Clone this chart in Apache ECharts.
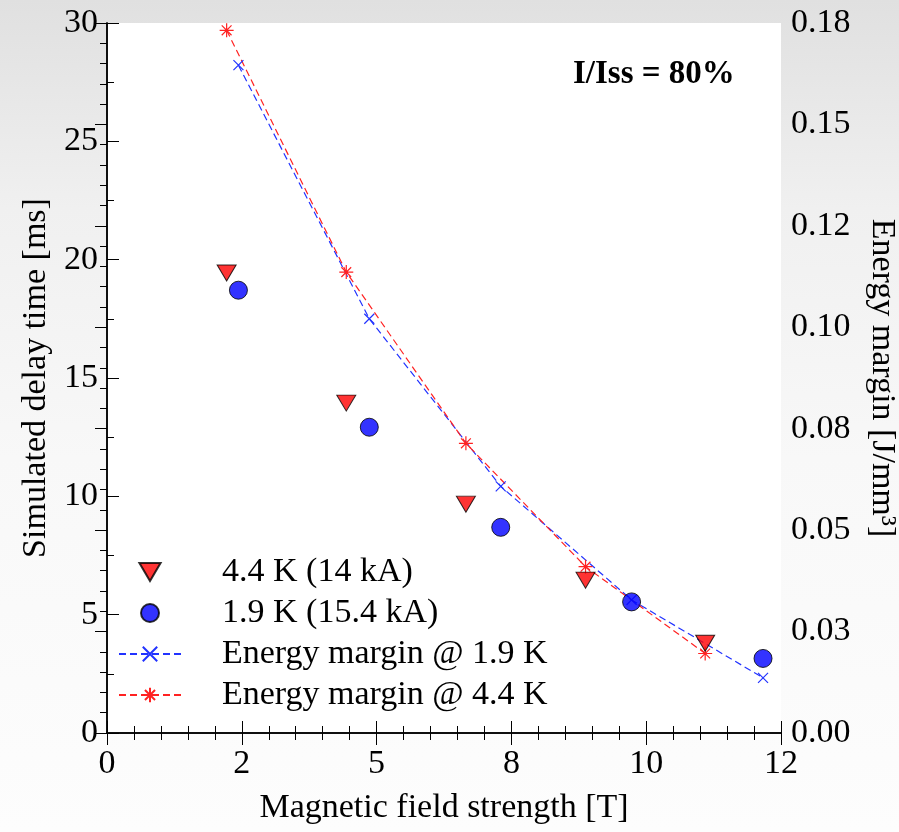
<!DOCTYPE html>
<html>
<head>
<meta charset="utf-8">
<script src="https://cdn.jsdelivr.net/npm/echarts@6/dist/echarts.min.js"></script>
<style>
html,body{margin:0;padding:0;}
#chart{width:899px;height:832px;background:linear-gradient(180deg,#e0e0e0 0%,#f0f0f0 25%,#f8f8f8 55%,#fdfdfd 100%);}
</style>
</head>
<body>
<div id="chart"></div>
<script>
// Data
const fieldT44 = [2.13, 4.26, 6.39, 8.52, 10.65];
const delay44 = [19.44, 13.94, 9.67, 6.46, 3.79];
const fieldT19 = [2.34, 4.67, 7.01, 9.34, 11.68];
const delay19 = [18.71, 12.92, 8.69, 5.54, 3.15];
const margin19 = [0.1646, 0.1021, 0.0608, 0.0328, 0.0136];
const margin44 = [0.1732, 0.1136, 0.0714, 0.0410, 0.0196];
const xTickLabels = ['0', '2', '5', '8', '10', '12'];
const rightTickLabels = ['0.00', '0.03', '0.05', '0.08', '0.10', '0.12', '0.15', '0.18'];
const seriesNames = ['4.4 K (14 kA)', '1.9 K (15.4 kA)', 'Energy margin @ 1.9 K', 'Energy margin @ 4.4 K'];

const zip = (a, b) => a.map((v, i) => [v, b[i]]);
const FONT = 'Liberation Serif';
const chart = echarts.init(document.getElementById('chart'), null, {renderer: 'canvas'});

const axisLineStyle = {color: '#000', width: 1.5};
const option = {
  backgroundColor: 'transparent',
  textStyle: {fontFamily: FONT, color: '#000'},
  animation: false,
  grid: {left: 107, right: 118, top: 23, bottom: 99, show: true, backgroundColor: '#fff', borderWidth: 0,
    outerBoundsMode: 'none', containLabel: false},
  xAxis: [{
    type: 'value', min: 0, max: 12, interval: 2.4, position: 'bottom',
    name: 'Magnetic field strength [T]', nameLocation: 'middle', nameGap: 58,
    nameTextStyle: {fontFamily: FONT, fontSize: 34, color: '#000'},
    axisLine: {show: true, lineStyle: axisLineStyle},
    axisTick: {show: true, inside: true, length: 12, lineStyle: {color: '#000', width: 1}},
    minorTick: {show: true, splitNumber: 5, length: 7, lineStyle: {color: '#000', width: 1}},
    axisLabel: {fontFamily: FONT, fontSize: 34, color: '#000', margin: 14,
      formatter: (v, i) => xTickLabels[i]},
    splitLine: {show: false}
  }, {
    type: 'value', min: 0, max: 12, interval: 2.4, position: 'top',
    axisLine: {show: true, lineStyle: axisLineStyle},
    axisTick: {show: true, inside: true, length: 12, lineStyle: {color: '#000', width: 1}},
    minorTick: {show: true, splitNumber: 5, length: 7, lineStyle: {color: '#000', width: 1}},
    axisLabel: {show: false},
    splitLine: {show: false}
  }],
  yAxis: [{
    type: 'value', min: 0, max: 30, interval: 5, position: 'left',
    name: 'Simulated delay time [ms]', nameLocation: 'middle', nameGap: 52,
    nameTextStyle: {fontFamily: FONT, fontSize: 34, color: '#000'},
    axisLine: {show: true, lineStyle: axisLineStyle},
    axisTick: {show: true, inside: true, length: 12, lineStyle: {color: '#000', width: 1}},
    minorTick: {show: true, splitNumber: 2, length: 7, lineStyle: {color: '#000', width: 1}},
    axisLabel: {fontFamily: FONT, fontSize: 34, color: '#000', margin: 9},
    splitLine: {show: false}
  }, {
    type: 'value', min: 0, max: 0.175, interval: 0.025, position: 'right',
    name: 'Energy margin [J/mm³]', nameLocation: 'middle', nameGap: 84, nameRotate: -90,
    nameTextStyle: {fontFamily: FONT, fontSize: 34, color: '#000'},
    axisLine: {show: true, lineStyle: axisLineStyle},
    axisTick: {show: true, inside: true, length: 12, lineStyle: {color: '#000', width: 1}},
    minorTick: {show: true, splitNumber: 5, length: 7, lineStyle: {color: '#000', width: 1}},
    axisLabel: {fontFamily: FONT, fontSize: 34, color: '#000', margin: 10,
      formatter: (v, i) => rightTickLabels[i]},
    splitLine: {show: false}
  }],
  legend: {
    orient: 'vertical', left: 118, top: 555, padding: 0,
    itemWidth: 62, itemHeight: 18, itemGap: 7,
    data: seriesNames,
    textStyle: {fontFamily: FONT, fontSize: 34, color: '#000', lineHeight: 34, padding: [0, 0, 0, 36]}
  },
  graphic: [{
    type: 'text', left: 573, top: 58,
    style: {text: 'I/Iss = 80%', fontFamily: FONT, fontSize: 33, fontWeight: 'bold', fill: '#000'}
  }],
  series: [{
    name: seriesNames[2], type: 'line', xAxisIndex: 0, yAxisIndex: 1,
    data: zip(fieldT19, margin19), z: 2,
    symbol: 'path://M0,0L10,10M10,0L0,10', symbolSize: 10,
    lineStyle: {color: '#2233ff', width: 1.2, type: [7, 4]},
    itemStyle: {color: '#2233ff', borderColor: '#2233ff', borderWidth: 1.2}
  }, {
    name: seriesNames[3], type: 'line', xAxisIndex: 0, yAxisIndex: 1,
    data: zip(fieldT44, margin44), z: 2,
    symbol: 'path://M5,0L5,10M0,5L10,5M1.5,1.5L8.5,8.5M8.5,1.5L1.5,8.5', symbolSize: 14,
    lineStyle: {color: '#ff2222', width: 1.2, type: [7, 4]},
    itemStyle: {color: '#ff2222', borderColor: '#ff2222', borderWidth: 1.2}
  }, {
    name: seriesNames[0], type: 'scatter', xAxisIndex: 0, yAxisIndex: 0,
    data: zip(fieldT44, delay44), z: 3,
    symbol: 'path://M0,0L20,0L10,17Z', symbolSize: [19, 16],
    itemStyle: {color: '#ff0000', borderColor: '#000', borderWidth: 1}
  }, {
    name: seriesNames[1], type: 'scatter', xAxisIndex: 0, yAxisIndex: 0,
    data: zip(fieldT19, delay19), z: 3,
    symbol: 'circle', symbolSize: 18,
    itemStyle: {color: '#0000ff', borderColor: '#000', borderWidth: 1}
  }]
};
chart.setOption(option);
</script>
</body>
</html>
